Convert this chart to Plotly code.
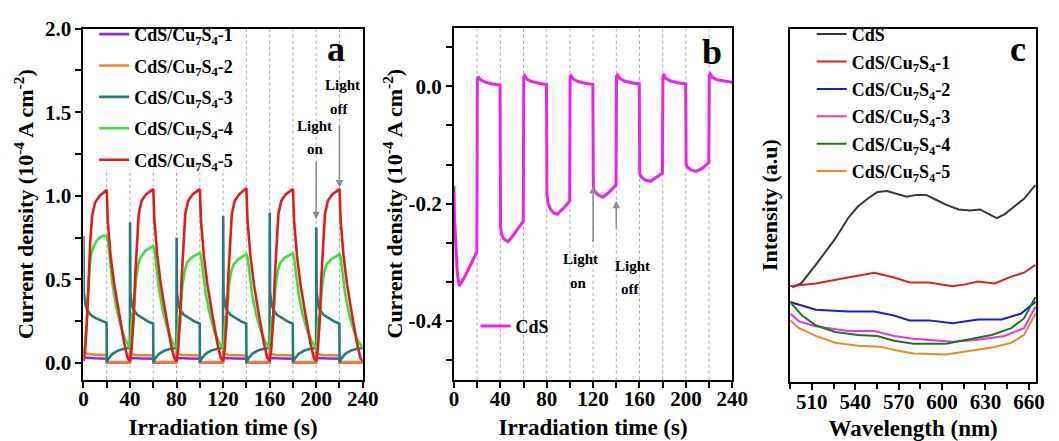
import plotly.graph_objects as go

FONT = "Liberation Serif, Times New Roman, serif"

# ---------------- (a) photocurrent of CdS/Cu7S4 composites ----------------
red_t = [0, 1.5, 3, 4.5, 6, 7.5, 10, 14, 20, 21, 23.5, 26.5, 30.5, 35, 38,
         40, 41.5, 43, 44.5, 46, 47.5, 50, 54, 60, 61, 63.5, 66.5, 70.5, 75, 78,
         80, 81.5, 83, 84.5, 86, 87.5, 90, 94, 100, 101, 103.5, 106.5, 110.5, 115, 118,
         120, 121.5, 123, 124.5, 126, 127.5, 130, 134, 140, 141, 143.5, 146.5, 150.5, 155, 158,
         160, 161.5, 163, 164.5, 166, 167.5, 170, 174, 180, 181, 183.5, 186.5, 190.5, 195, 198,
         200, 201.5, 203, 204.5, 206, 207.5, 210, 214, 220, 221, 223.5, 226.5, 230.5, 235, 238, 240]
red_v = [0.01, 0.08, 0.25, 0.50, 0.74, 0.88, 0.96, 1.00, 1.035, 0.84, 0.63, 0.47, 0.30, 0.12, 0.03,
         0.01, 0.09, 0.26, 0.52, 0.75, 0.89, 0.97, 1.01, 1.04, 0.85, 0.64, 0.47, 0.30, 0.12, 0.03,
         0.01, 0.09, 0.26, 0.52, 0.75, 0.89, 0.97, 1.01, 1.04, 0.85, 0.64, 0.47, 0.30, 0.12, 0.03,
         0.01, 0.09, 0.26, 0.52, 0.75, 0.89, 0.97, 1.01, 1.045, 0.85, 0.64, 0.47, 0.30, 0.12, 0.03,
         0.01, 0.09, 0.26, 0.52, 0.75, 0.89, 0.97, 1.01, 1.04, 0.85, 0.64, 0.47, 0.30, 0.12, 0.03,
         0.01, 0.09, 0.26, 0.52, 0.75, 0.89, 0.97, 1.01, 1.04, 0.85, 0.64, 0.47, 0.30, 0.12, 0.03, 0.01]

green_t = [0, 1, 2, 3, 4.2, 5.5, 7, 9, 11.2, 14, 17, 20, 21, 22.5, 25, 28, 32, 36, 39.8,
           40.5, 41.5, 42, 42.6, 43.5, 45, 47, 49, 53, 57, 60, 61, 62.5, 65, 68, 72, 76, 79.8,
           80.5, 81.5, 82, 82.6, 83.5, 85, 87, 89, 93, 97, 100, 101, 102.5, 105, 108, 112, 116, 119.8,
           120.5, 121.5, 122, 122.6, 123.5, 125, 127, 129, 133, 137, 140, 141, 142.5, 145, 148, 152, 156, 159.8,
           160.5, 161.5, 162, 162.6, 163.5, 165, 167, 169, 173, 177, 180, 181, 182.5, 185, 188, 192, 196, 199.8,
           200.5, 201.5, 202, 202.6, 203.5, 205, 207, 209, 213, 217, 220, 221, 222.5, 225, 228, 232, 236, 240]
green_v = [0.05, 0.08, 0.15, 0.30, 0.48, 0.59, 0.66, 0.70, 0.73, 0.75, 0.76, 0.76, 0.74, 0.63, 0.47, 0.34, 0.22, 0.14, 0.09,
           0.12, 0.22, 0.30, 0.21, 0.33, 0.49, 0.59, 0.63, 0.67, 0.69, 0.70, 0.68, 0.58, 0.44, 0.32, 0.21, 0.13, 0.09,
           0.12, 0.20, 0.28, 0.20, 0.31, 0.46, 0.55, 0.60, 0.63, 0.65, 0.66, 0.64, 0.55, 0.42, 0.31, 0.20, 0.13, 0.09,
           0.12, 0.20, 0.28, 0.20, 0.31, 0.46, 0.55, 0.59, 0.62, 0.64, 0.65, 0.63, 0.54, 0.41, 0.30, 0.20, 0.13, 0.09,
           0.12, 0.20, 0.28, 0.20, 0.31, 0.46, 0.55, 0.60, 0.63, 0.645, 0.655, 0.63, 0.54, 0.41, 0.30, 0.20, 0.13, 0.09,
           0.12, 0.20, 0.28, 0.20, 0.31, 0.46, 0.55, 0.59, 0.62, 0.64, 0.65, 0.63, 0.54, 0.41, 0.30, 0.20, 0.13, 0.09]

teal_t = [0, 0.4, 1.5, 3, 6, 10, 15, 19.9, 20.1, 22, 25, 30, 35, 39.9,
          40.1, 40.4, 41.5, 43, 46, 50, 55, 59.9, 60.1, 62, 65, 70, 75, 79.9,
          80.1, 80.4, 81.5, 83, 86, 90, 95, 99.9, 100.1, 102, 105, 110, 115, 119.9,
          120.1, 120.4, 121.5, 123, 126, 130, 135, 139.9, 140.1, 142, 145, 150, 155, 159.9,
          160.1, 160.4, 161.5, 163, 166, 170, 175, 179.9, 180.1, 182, 185, 190, 195, 199.9,
          200.1, 200.4, 201.5, 203, 206, 210, 215, 219.9, 220.1, 222, 225, 230, 235, 240]
teal_v = [0.76, 0.42, 0.36, 0.32, 0.29, 0.27, 0.255, 0.24, 0.005, 0.03, 0.055, 0.075, 0.085, 0.09,
          0.84, 0.42, 0.36, 0.32, 0.29, 0.27, 0.25, 0.235, 0.005, 0.03, 0.055, 0.075, 0.085, 0.09,
          0.75, 0.42, 0.36, 0.32, 0.29, 0.27, 0.25, 0.235, 0.005, 0.03, 0.055, 0.075, 0.085, 0.09,
          0.88, 0.42, 0.36, 0.32, 0.29, 0.27, 0.25, 0.235, 0.005, 0.03, 0.055, 0.075, 0.085, 0.09,
          0.90, 0.42, 0.36, 0.32, 0.29, 0.27, 0.25, 0.235, 0.005, 0.03, 0.055, 0.075, 0.085, 0.09,
          0.81, 0.42, 0.36, 0.32, 0.29, 0.27, 0.25, 0.235, 0.005, 0.03, 0.055, 0.075, 0.085, 0.09]

orange_t = [0, 1, 3, 10, 19.9, 20.1, 39.9,
            40.1, 40.6, 45, 59.9, 60.1, 79.9,
            80.1, 80.6, 85, 99.9, 100.1, 119.9,
            120.1, 120.6, 125, 139.9, 140.1, 159.9,
            160.1, 160.6, 165, 179.9, 180.1, 199.9,
            200.1, 200.6, 205, 219.9, 220.1, 240]
orange_v = [0.10, 0.07, 0.055, 0.05, 0.048, 0.006, 0.005,
            0.08, 0.055, 0.048, 0.045, 0.006, 0.005,
            0.08, 0.055, 0.048, 0.045, 0.006, 0.005,
            0.08, 0.055, 0.048, 0.045, 0.006, 0.005,
            0.08, 0.055, 0.048, 0.045, 0.006, 0.005,
            0.08, 0.055, 0.048, 0.045, 0.006, 0.005]

purple_t = [0, 2, 10, 19.9, 20.1, 39.9,
            40.1, 41, 50, 59.9, 60.1, 79.9,
            80.1, 81, 90, 99.9, 100.1, 119.9,
            120.1, 121, 130, 139.9, 140.1, 159.9,
            160.1, 161, 170, 179.9, 180.1, 199.9,
            200.1, 201, 210, 219.9, 220.1, 240]
purple_v = [0.04, 0.032, 0.028, 0.026, 0.004, 0.004,
            0.035, 0.03, 0.027, 0.025, 0.004, 0.004,
            0.035, 0.03, 0.027, 0.025, 0.004, 0.004,
            0.035, 0.03, 0.027, 0.025, 0.004, 0.004,
            0.035, 0.03, 0.027, 0.025, 0.004, 0.004,
            0.035, 0.03, 0.027, 0.025, 0.004, 0.004]

# ---------------- (b) photocurrent of bare CdS ----------------
cds_t = [0, 0.5, 1.7, 3, 4.5, 6, 10, 15, 19.8, 20.2, 21, 23, 27, 33, 39.8,
         40.2, 41, 43, 46.5, 50, 55, 59.8, 60.2, 61, 63, 67, 73, 79.8,
         80.2, 81, 83.4, 86, 89, 95, 99.8, 100.2, 101, 103, 107, 113, 119.8,
         120.2, 121, 124.3, 128.5, 134, 139.8, 140.2, 141, 143, 147, 153, 159.8,
         160.2, 161, 165, 169.4, 175, 179.8, 180.2, 181, 183, 187, 193, 199.8,
         200.2, 201, 204, 208.8, 214, 219.8, 220.2, 221, 223, 227, 233, 240]
cds_v = [-0.17, -0.22, -0.275, -0.32, -0.34, -0.336, -0.322, -0.302, -0.282, 0.012, 0.016, 0.011, 0.007, 0.004, 0.002,
         -0.24, -0.252, -0.26, -0.265, -0.257, -0.244, -0.23, 0.015, 0.018, 0.012, 0.008, 0.005, 0.003,
         -0.185, -0.198, -0.21, -0.216, -0.218, -0.207, -0.195, 0.016, 0.018, 0.012, 0.008, 0.005, 0.003,
         -0.172, -0.178, -0.185, -0.189, -0.18, -0.168, 0.017, 0.019, 0.013, 0.009, 0.006, 0.004,
         -0.148, -0.153, -0.16, -0.162, -0.155, -0.148, 0.017, 0.019, 0.013, 0.009, 0.006, 0.004,
         -0.132, -0.137, -0.142, -0.145, -0.14, -0.13, 0.018, 0.021, 0.015, 0.011, 0.009, 0.007]
b_tickvals = [0.0, -0.2, -0.4]
b_ticktext = ["0.0", "-0.2", "-0.4"]

# ---------------- (c) PL spectra ----------------
pl_cds_w = [496.5, 502.6, 512.7, 526.2, 535, 541.8, 548.5, 555.3, 562, 568.8, 575.5, 582.3,
            589, 595.8, 602.6, 611.4, 619.5, 626.2, 633, 637.7, 643.1, 649.9, 656.6, 664.5]
pl_cds_i = [97, 101, 120, 147, 168, 180, 188, 195, 196, 193, 190, 192,
            192, 187, 182, 177, 176, 177, 172, 168, 172, 180, 188, 202]

pl_1_w = [495, 512.7, 535, 553.2, 566.8, 577.6, 591.1, 602.6, 607.3, 616.1, 624.9, 636.4, 647.8, 656.6, 664.5]
pl_1_i = [98, 101, 107, 112, 107, 102, 102, 99, 98, 100, 103, 101, 108, 112, 120]

pl_2_w = [495, 512.7, 535, 553.2, 566.8, 577.6, 591.1, 607.3, 624.9, 641.1, 654.6, 664.5]
pl_2_i = [82, 74, 72, 72, 68, 63, 63, 60, 64, 64, 70, 82]

pl_3_w = [495, 501.2, 512.7, 535, 553.2, 566.8, 580.3, 597.8, 607.3, 624.9, 643.1, 656.6, 664.5]
pl_3_i = [70, 62, 57, 52, 52, 47, 44, 42, 41, 43, 47, 55, 77]

pl_4_w = [495, 503.2, 512.7, 526.2, 541.8, 555.3, 566.8, 580.3, 602.6, 616.1, 634.3, 647.8, 656.6, 664.5]
pl_4_i = [82, 68, 58, 51, 48, 47, 42, 39, 39, 43, 48, 55, 65, 87]

pl_5_w = [495, 501.2, 512.7, 526.2, 541.8, 557.3, 568.8, 580.3, 602.6, 616.1, 634.3, 647.8, 656.6, 664.5]
pl_5_i = [63, 55, 47, 40, 37, 36, 32, 29, 28, 31, 35, 40, 48, 70]

switch_times = [20, 40, 60, 80, 100, 120, 140, 160, 180, 200, 220]

def sample(n):
    return f"CdS/Cu<sub>7</sub>S<sub>4</sub>-{n}"

fig = go.Figure()

series_a = [
    (purple_t, purple_v, sample(1), "#8a2be2"),
    (orange_t, orange_v, sample(2), "#f5821f"),
    (teal_t, teal_v, sample(3), "#1f7f7f"),
    (green_t, green_v, sample(4), "#33e633"),
    (red_t, red_v, sample(5), "#e8191a"),
]
for i, (t, v, name, col) in enumerate(series_a):
    fig.add_trace(go.Scatter(x=t, y=v, name=name, mode="lines",
                             line=dict(color=col, width=2.6),
                             xaxis="x", yaxis="y", legend="legend",
                             legendgroup=f"a{i}"))

fig.add_trace(go.Scatter(x=cds_t, y=cds_v, name="CdS", mode="lines",
                         line=dict(color="#f020f0", width=3),
                         xaxis="x2", yaxis="y2", legend="legend2"))

series_c = [
    (pl_cds_w, pl_cds_i, "CdS", "#383838"),
    (pl_1_w, pl_1_i, sample(1), "#e02020"),
    (pl_2_w, pl_2_i, sample(2), "#1a1ae0"),
    (pl_3_w, pl_3_i, sample(3), "#f030f0"),
    (pl_4_w, pl_4_i, sample(4), "#1a7a1a"),
    (pl_5_w, pl_5_i, sample(5), "#f08a20"),
]
for i, (w, v, name, col) in enumerate(series_c):
    fig.add_trace(go.Scatter(x=w, y=v, name=name, mode="lines",
                             line=dict(color=col, width=2),
                             xaxis="x3", yaxis="y3", legend="legend3",
                             legendgroup=f"c{i}"))

# dotted guides at each light on/off switch
for ax in ("x", "x2"):
    for t in switch_times:
        fig.add_shape(type="line", xref=ax, yref=("y" if ax == "x" else "y2") + " domain",
                      x0=t, x1=t, y0=0, y1=1, layer="below",
                      line=dict(color="#a8a8a8", width=1, dash="dot"))
# white backing behind the legend of panel (a)
fig.add_shape(type="rect", xref="x", yref="y", x0=0, x1=134, y0=1.16, y1=2.0,
              layer="below", fillcolor="white", line=dict(width=0))

W, H = 1059, 441
def px(x):
    return x / W
def py(y):
    return 1 - y / H

tickfont = dict(family=FONT, size=21, color="black", weight="bold")
titlefont = dict(family=FONT, size=23, color="black", weight="bold")
ytitlefont = dict(family=FONT, size=22, color="black", weight="bold")
legfont = dict(family=FONT, size=18, color="black", weight="bold")
common = dict(showline=True, linecolor="black", linewidth=2, mirror=True,
              ticks="outside", ticklen=6, tickwidth=2, tickcolor="black",
              showgrid=False, zeroline=False, tickfont=tickfont)
minor_t = dict(ticks="outside", ticklen=6, tickwidth=2, tickcolor="black")

fig.update_layout(
    width=W, height=H, margin=dict(l=0, r=0, t=0, b=0),
    paper_bgcolor="white", plot_bgcolor="white",
    font=dict(family=FONT, color="black"),
    xaxis=dict(domain=[px(80), px(365)], range=[0, 240], dtick=40, tick0=0,
               minor=dict(dtick=20, **minor_t), ticklabelstandoff=-7,
               title=dict(text="Irradiation time (s)", font=titlefont, standoff=9),
               anchor="y", **common),
    yaxis=dict(domain=[py(378), py(17)], range=[-0.1, 2.0], dtick=0.5, tick0=0,
               tickformat=".1f", minor=dict(dtick=0.25, **minor_t),
               title=dict(text="Current density (10<sup>-4</sup> A cm<sup>-2</sup>)",
                          font=ytitlefont, standoff=5),
               anchor="x", **common),
    xaxis2=dict(domain=[px(458), px(742)], range=[0, 240], dtick=40, tick0=0,
                minor=dict(dtick=20, **minor_t), ticklabelstandoff=-7,
                title=dict(text="Irradiation time (s)", font=titlefont, standoff=9),
                anchor="y2", **common),
    yaxis2=dict(domain=[py(378), py(16)], range=[-0.5, 0.1],
                tickmode="array", tickvals=b_tickvals, ticktext=b_ticktext,
                minor=dict(dtick=0.2 / 3, tick0=0, **minor_t),
                title=dict(text="Current density (10<sup>-4</sup> A cm<sup>-2</sup>)",
                           font=ytitlefont, standoff=0),
                anchor="x2", **common),
    xaxis3=dict(domain=[px(801), px(1052)], range=[495, 665], dtick=30, tick0=510,
                minor=dict(dtick=15, tick0=495, ticks="outside", ticklen=5, tickwidth=2, tickcolor="black"),
                ticklabelstandoff=-6,
                title=dict(text="Wavelength (nm)", font=titlefont, standoff=9),
                anchor="y3", **common),
    yaxis3=dict(domain=[py(380), py(17)], range=[0, 363],
                showline=True, linecolor="black", linewidth=2, mirror=True,
                ticks="", showticklabels=False, showgrid=False, zeroline=False,
                title=dict(text="Intensity (a.u)", font=ytitlefont, standoff=4),
                anchor="x3"),
    legend=dict(x=px(91), y=py(4), xanchor="left", yanchor="top",
                bgcolor="rgba(0,0,0,0)", borderwidth=0, tracegroupgap=5, font=legfont),
    legend2=dict(x=px(480), y=py(304), xanchor="left", yanchor="top",
                 bgcolor="rgba(0,0,0,0)", font=legfont),
    legend3=dict(x=px(823), y=py(4), xanchor="left", yanchor="top",
                 bgcolor="rgba(0,0,0,0)", tracegroupgap=1, font=legfont),
)

# panel letters
for letter, x, y in (("a", 338, 38), ("b", 721, 41), ("c", 1033, 38)):
    fig.add_annotation(text=letter, x=px(x), y=py(y), xref="paper", yref="paper",
                       showarrow=False, xanchor="center", yanchor="middle",
                       font=dict(family=FONT, size=36, color="black", weight="bold"))

# light on / off markers
note_font = dict(family=FONT, size=15, color="black", weight="bold")
arrow_col = "#8c8c8c"

def arrow(xr, yr, x, y_head, y_tail):
    fig.add_annotation(x=x, y=y_head, ax=x, ay=y_tail, xref=xr, yref=yr, axref=xr, ayref=yr,
                       text="", showarrow=True, arrowhead=2, arrowsize=1,
                       arrowwidth=1.5, arrowcolor=arrow_col)

def note(xr, yr, x, y, text):
    fig.add_annotation(x=x, y=y, xref=xr, yref=yr, text=text, showarrow=False, font=note_font)

arrow("x", "y", 200, 0.86, 1.21)
note("x", "y", 198.5, 1.42, "Light")
note("x", "y", 199, 1.28, "on")
arrow("x", "y", 220, 1.05, 1.43)
note("x", "y", 223, 1.66, "Light")
note("x", "y", 220, 1.52, "off")

arrow("x2", "y2", 120, -0.17, -0.268)
note("x2", "y2", 109, -0.295, "Light")
note("x2", "y2", 107.5, -0.335, "on")
arrow("x2", "y2", 140, -0.195, -0.245)
note("x2", "y2", 153.8, -0.307, "Light")
note("x2", "y2", 152, -0.345, "off")

fig.write_html("out.html")
